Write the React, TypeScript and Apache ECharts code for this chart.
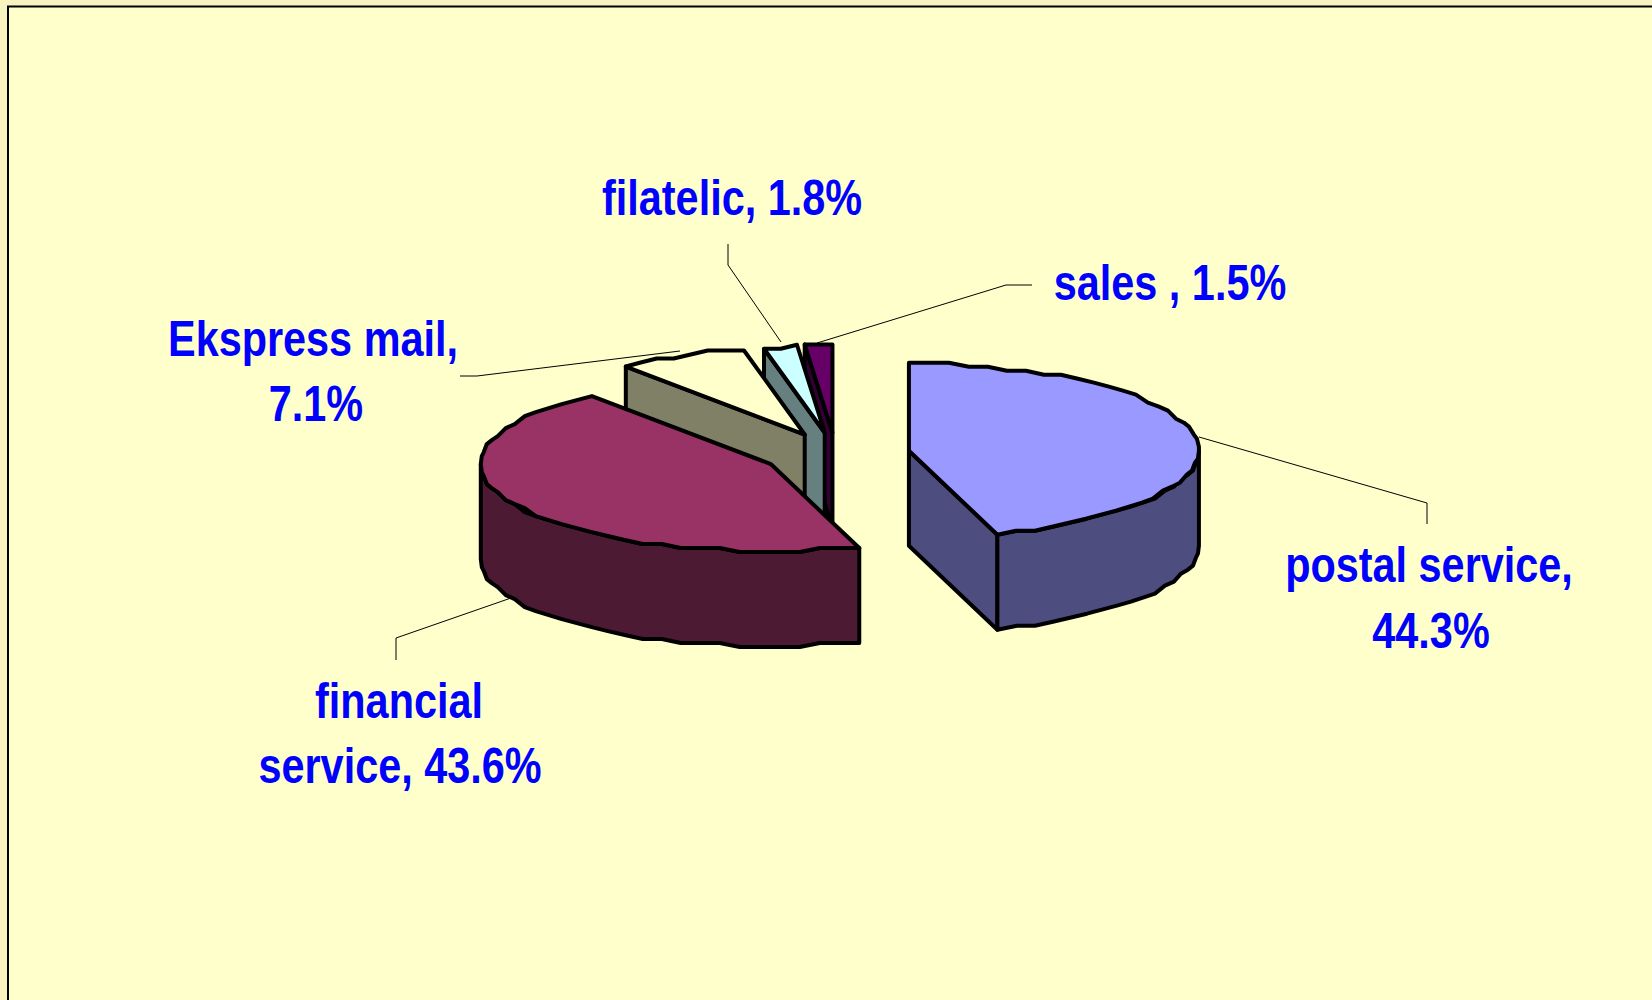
import React, { useEffect, useRef } from "react";
import * as echarts from "echarts";

// ---- data ----
const categories = ["postal service", "financial service", "Ekspress mail", "filatelic", "sales"];
const sliceValues = [44.3, 43.6, 7.1, 1.8, 1.5];
const topColors = ["#9999FF", "#993366", "#FFFFCC", "#CCFFFF", "#660066"];
const wallColors = ["#4D4D80", "#4D1A33", "#808066", "#668080", "#330033"];
const labelLines = [
  ["postal service,", "44.3%"],
  ["financial", "service, 43.6%"],
  ["Ekspress mail,", "7.1%"],
  ["filatelic, 1.8%"],
  ["sales , 1.5%"],
];

// ---- layout ----
const labelAnchors = [
  [[1429, 565], [1431, 631]],
  [[399, 701], [400, 766]],
  [[313, 339], [316, 404]],
  [[732, 198]],
  [[1170, 283]],
];
const leaders = [
  [[1199, 437], [1427, 503], [1427, 524]],
  [[511, 598], [396, 638], [396, 660]],
  [[460, 376], [477, 376], [680, 351]],
  [[728, 244], [728, 265], [781, 342]],
  [[1032, 285], [1006, 285], [817, 343]],
];
const CX = 836, CY = 454, RX = 290, RY = 87, DEPTH = 95, EX = 73.8, EY = 21.5;
const SNAP_X = 1, SNAP_Y = 4, STEP = 4;
const total = sliceValues.reduce((a, b) => a + b, 0);
const rad = (d: number) => (d * Math.PI) / 180;

function arc(ax: number, ay: number, from: number, to: number) {
  const pts: number[][] = [];
  const n = Math.max(1, Math.round((to - from) / STEP));
  for (let i = 0; i <= n; i++) {
    const a = rad(from + ((to - from) * i) / n);
    let dx = RX * Math.sin(a);
    let dy = -RY * Math.cos(a);
    dy = Math.round(dy / SNAP_Y) * SNAP_Y;
    if (i > 0 && i < n) dx = Math.round(dx / SNAP_X) * SNAP_X;
    pts.push([ax + dx, ay + dy]);
  }
  return pts;
}
const drop = (p: number[][]) => p.map(([x, y]) => [x, y + DEPTH]);

const renderItem = (params: any, api: any) => {
  const idx = params.dataIndex;
  const value = api.value(0);
  const before = sliceValues.slice(0, idx).reduce((a, b) => a + b, 0);
  const start = (before / total) * 360;
  const end = start + (value / total) * 360;
  const mid = (start + end) / 2;
  const ax = CX + EX * Math.sin(rad(mid));
  const ay = CY - EY * Math.cos(rad(mid));
  const top = arc(ax, ay, start, end);
  const baseZ = (sliceValues.length - idx) * 10;
  const mk = (points: number[][], fill: string, k: number) => ({
    type: "polygon",
    z2: baseZ + k,
    shape: { points },
    style: { fill, stroke: "#000", lineWidth: 4, lineJoin: "round" },
  });
  const children: any[] = [];
  const midPt = [ax + RX * Math.sin(rad(mid)), ay - RY * Math.cos(rad(mid))];
  // straight cut walls: a cut face shows when the slice lies above its edge
  [start, end].forEach((ang, i) => {
    const p = [ax + RX * Math.sin(rad(ang)), ay - RY * Math.cos(rad(ang))];
    const ddx = p[0] - ax;
    if (Math.abs(ddx) < 0.5) return;
    const lineY = ay + ((p[1] - ay) / ddx) * (midPt[0] - ax);
    if (midPt[1] < lineY) {
      const q = [[ax, ay], [ax + (p[0] - ax), ay + Math.round((p[1] - ay) / SNAP_Y) * SNAP_Y]];
      children.push(mk([...q, ...drop(q).reverse()], wallColors[idx], i));
    }
  });
  // outer curved wall on the front half
  const a0 = Math.max(start, 90), a1 = Math.min(end, 270);
  if (a1 > a0) {
    const o = arc(ax, ay, a0, a1);
    children.push(mk([...o, ...drop(o).reverse()], wallColors[idx], 3));
  }
  children.push(mk([[ax, ay], ...top], topColors[idx], 4));
  return { type: "group", children };
};

export default function App() {
  const ref = useRef<HTMLDivElement>(null);
  useEffect(() => {
    const chart = echarts.init(ref.current!, undefined, { renderer: "svg" });
    const texts: any[] = [];
    labelLines.forEach((lines, i) =>
      lines.forEach((t, j) =>
        texts.push({
          type: "text",
          x: labelAnchors[i][j][0],
          y: labelAnchors[i][j][1],
          scaleX: 0.828,
          z: 5,
          style: {
            text: t,
            fill: "#0000FF",
            fontFamily: "'Liberation Sans'",
            fontWeight: "bold",
            fontSize: 50,
            textAlign: "center",
            textVerticalAlign: "middle",
          },
        })
      )
    );
    const lines = leaders.map((points) => ({
      type: "polyline",
      z: 1,
      shape: { points },
      style: { stroke: "#000", lineWidth: 1, fill: "none" },
    }));
    chart.setOption({
      animation: false,
      backgroundColor: "#F8F3C0",
      graphic: [
        {
          type: "rect",
          z: -10,
          shape: { x: 8, y: 6.5, width: 1800, height: 1200 },
          style: { fill: "#FFFFCC", stroke: "#000", lineWidth: 2 },
        },
        ...lines,
        ...texts,
      ],
      series: [
        {
          type: "custom",
          coordinateSystem: "none",
          z: 3,
          renderItem,
          data: categories.map((name, i) => ({ name, value: [sliceValues[i]] })),
        },
      ],
    });
    return () => chart.dispose();
  }, []);
  return <div ref={ref} style={{ position: "fixed", left: 0, top: 0, width: 1652, height: 1000 }} />;
}
